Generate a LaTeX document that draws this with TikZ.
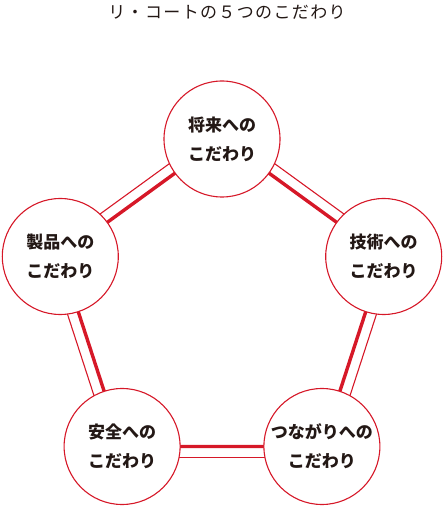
\documentclass[tikz,border=0pt]{standalone}
\usepackage{fontspec}
\newfontfamily\cjk{Noto Sans CJK JP}
\usetikzlibrary{calc,backgrounds}
\definecolor{kred}{RGB}{214,24,40}
\definecolor{kink}{RGB}{35,24,21}

\begin{document}
\begin{tikzpicture}[x=1pt,y=1pt,
  kodawari/.style={circle,draw=kred,line width=1.1pt,fill=white,minimum size=116pt,inner sep=0pt,
    align=center,text=kink,font=\cjk\bfseries\fontsize{17}{29}\selectfont},
  bandthick/.style={draw=kred,line width=3.4pt},
  bandthin/.style={draw=kred,line width=1.1pt}]
\useasboundingbox (0,0) rectangle (444,507);
\node[text=kink,font=\cjk\fontsize{17}{20}\selectfont\addfontfeatures{LetterSpace=8}] (title) at (227,495) {リ・コートの５つのこだわり};
\node[kodawari] (shorai) at (222.0,368.0) {将来への\\こだわり};
\node[kodawari] (gijutsu) at (383.7,250.5) {技術への\\こだわり};
\node[kodawari] (tsunagari) at (321.9,60.5) {つながりへの\\こだわり};
\node[kodawari] (anzen) at (122.1,60.5) {安全への\\こだわり};
\node[kodawari] (seihin) at (60.3,250.5) {製品への\\こだわり};
\begin{scope}[on background layer]
\draw[bandthick] (shorai.center)--(gijutsu.center)--(tsunagari.center)--(anzen.center)--(seihin.center)--cycle;
\draw[bandthin] ($(shorai.center)!11pt!90:(gijutsu.center)$) -- ($(gijutsu.center)!11pt!-90:(shorai.center)$);
\draw[bandthin] ($(gijutsu.center)!11pt!90:(tsunagari.center)$) -- ($(tsunagari.center)!11pt!-90:(gijutsu.center)$);
\draw[bandthin] ($(tsunagari.center)!11pt!90:(anzen.center)$) -- ($(anzen.center)!11pt!-90:(tsunagari.center)$);
\draw[bandthin] ($(anzen.center)!11pt!90:(seihin.center)$) -- ($(seihin.center)!11pt!-90:(anzen.center)$);
\draw[bandthin] ($(seihin.center)!11pt!90:(shorai.center)$) -- ($(shorai.center)!11pt!-90:(seihin.center)$);
\end{scope}
\end{tikzpicture}
\end{document}
